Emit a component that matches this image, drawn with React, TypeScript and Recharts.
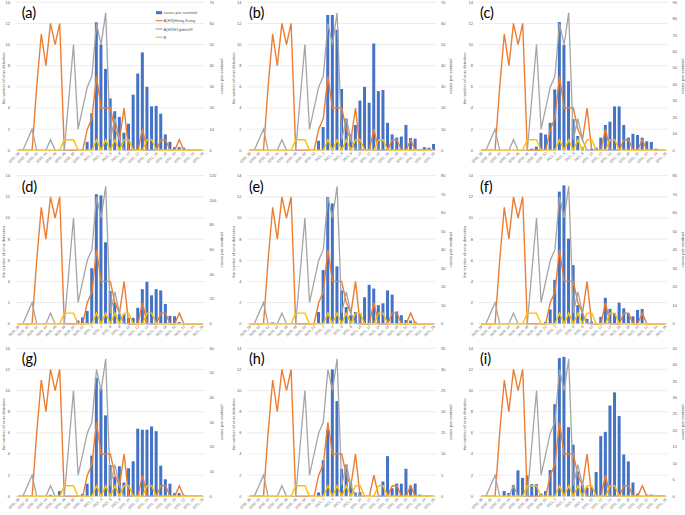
import React from 'react';
import { ComposedChart, Bar, Line, XAxis, YAxis, CartesianGrid } from 'recharts';

// ─── Colours / fonts ──────────────────────────────────────────────────────────

const FONT = '"Liberation Sans", Arial, sans-serif';
const TEXT = '#595959';
const BLUE = '#4472C4';
const ORANGE = '#ED7D31';
const GREY = '#A5A5A5';
const YELLOW = '#FFC000';

// ─── Data ─────────────────────────────────────────────────────────────────────

const WEEKS = [
  '2020_38', '2020_39', '2020_40', '2020_41', '2020_42', '2020_43', '2020_44', '2020_45',
  '2020_46', '2020_47', '2020_48', '2020_49', '2020_50', '2020_51', '2020_52',
  '2021_1', '2021_2', '2021_3', '2021_4', '2021_5', '2021_6', '2021_7', '2021_8', '2021_9',
  '2021_10', '2021_11', '2021_12', '2021_13', '2021_14', '2021_15', '2021_16', '2021_17',
  '2021_18', '2021_19', '2021_20', '2021_21', '2021_22', '2021_23', '2021_24', '2021_25', '2021_26',
];

// virus detections (left axis) – same in every panel
const H3_HK = [0, 0, 0, 0, 6, 11, 8, 12, 10, 12, 0, 0, 0, 0, 0, 2, 3, 7, 4, 4, 4, 2, 1, 4, 0, 0, 0, 2, 0, 0, 0, 1, 1, 0, 0, 1, 0, 0, 0, 0, 0];
const H1N1_PDM09 = [0, 0, 1, 2, 0, 0, 0, 1, 0, 0, 0, 5, 10, 2, 4, 6, 7, 12, 10, 13, 1, 3, 1, 0, 0, 0, 0, 0, 0, 0, 0, 0, 0, 0, 0, 0, 0, 0, 0, 0, 0];
const FLU_B = [0, 0, 0, 0, 0, 0, 0, 0, 0, 0, 1, 1, 1, 0, 0, 0, 0, 1, 0, 1, 0, 1, 0, 1, 1, 0, 0, 0, 1, 1, 0, 0, 0, 0, 0, 0, 0, 0, 0, 0, 0];

// cases per sentinel (right axis) – one series per panel
const CASES_A = [0, 0, 0, 0, 0, 0, 0, 0, 0, 0, 0, 0, 0, 0, 0.5, 4, 17.5, 60.5, 50, 38.5, 24.5, 18.5, 15.8, 8.3, 12.5, 26.3, 36.3, 46.3, 30, 20.8, 21, 17.3, 7.5, 4, 1.5, 1.5, 1.2, 0.3, 0, 0, 0];
const CASES_B = [0, 0, 0, 0, 0, 0, 0, 0, 0, 0, 0, 0, 0, 0, 0, 4.5, 11, 64, 64, 57, 29, 15, 7.5, 12, 23.5, 30, 22.5, 50.5, 28, 28.5, 13, 7.5, 6, 6.5, 12, 5.8, 5.5, 0.5, 1.5, 1.2, 3];
const CASES_C = [0, 0, 0, 0, 0, 0, 0, 0, 0, 0, 0, 1, 2.2, 10.6, 9.6, 16.7, 37, 78, 64, 42, 19, 8.7, 1.9, 0.5, 1, 1.6, 7.7, 15.4, 17.4, 26.7, 26.7, 15.4, 7.7, 10, 9.3, 7.7, 5.5, 5.1, 1, 0, 0];
const CASES_D = [0, 0, 0, 0, 0, 0, 0, 0, 0, 0, 0, 0, 0, 2.6, 5.1, 10.3, 45, 105, 104, 66, 26.5, 17, 8, 7.7, 4.7, 4.7, 12.9, 28, 34, 23, 28, 27, 16, 6.4, 6, 1.3, 0, 0, 0, 0, 0];
const CASES_E = [0, 0, 0, 0, 0, 0.7, 0, 0, 0, 0, 0, 0, 0, 0, 0, 6.3, 29, 68.5, 65, 31, 18, 9, 4.6, 6.3, 5.7, 14.3, 21, 19, 10, 11, 18, 15.7, 6.6, 4.6, 2, 1.7, 0.9, 0, 0, 0, 0];
const CASES_F = [0, 0, 0, 0, 0, 0, 0, 0, 0, 0, 0, 0, 0, 0, 0.9, 7.7, 23.7, 71.4, 74.8, 46, 31.7, 10, 5.7, 2.6, 1.1, 0, 3.7, 14, 8, 5.7, 11.4, 8.3, 5.7, 4, 7.4, 8, 0.3, 0.3, 0, 0, 0];
const CASES_G = [0, 0, 0, 0, 0, 0, 0, 0.6, 0, 2.1, 0, 0, 0, 0, 0.9, 5.1, 16.5, 48, 43.7, 32.8, 12.7, 8, 12.2, 5.6, 11.4, 14.2, 27.4, 27, 27, 28.3, 26.4, 12.4, 6.9, 5.1, 1.3, 1.3, 0.6, 0, 0, 0, 0];
const CASES_H = [0, 0, 0, 0, 0, 0, 0, 0, 0, 0, 0, 0, 0, 0, 0, 0.9, 8.5, 15.8, 30, 22.5, 6.5, 7.5, 3, 0.9, 1, 0, 0, 0, 0, 3.5, 9.5, 1.9, 3, 3, 6.5, 2.5, 3, 0.4, 0, 0, 0];
const CASES_I = [0, 0, 0, 0, 0, 1.6, 1, 3.4, 7.9, 5.6, 6.3, 3.7, 3.7, 0.8, 1.6, 8, 28, 42, 42.4, 21, 15.7, 7.5, 3.4, 2.7, 2.7, 7.4, 18.3, 19.6, 27.6, 31.6, 24.4, 12.7, 10.6, 4.2, 0.8, 0, 0.5, 0.5, 0.2, 0, 0];

// axis ticks
const LEFT_TICKS = [0, 2, 4, 6, 8, 10, 12, 14];
const RIGHT_70 = [0, 10, 20, 30, 40, 50, 60, 70];
const RIGHT_90 = [0, 10, 20, 30, 40, 50, 60, 70, 80, 90];
const RIGHT_120 = [0, 20, 40, 60, 80, 100, 120];
const RIGHT_80 = [0, 10, 20, 30, 40, 50, 60, 70, 80];
const RIGHT_60 = [0, 10, 20, 30, 40, 50, 60];
const RIGHT_35 = [0, 5, 10, 15, 20, 25, 30, 35];
const RIGHT_45 = [0, 5, 10, 15, 20, 25, 30, 35, 40, 45];

const PANELS = [
  { label: '(a)', cases: CASES_A, rightTicks: RIGHT_70 },
  { label: '(b)', cases: CASES_B, rightTicks: RIGHT_70 },
  { label: '(c)', cases: CASES_C, rightTicks: RIGHT_90 },
  { label: '(d)', cases: CASES_D, rightTicks: RIGHT_120 },
  { label: '(e)', cases: CASES_E, rightTicks: RIGHT_80 },
  { label: '(f)', cases: CASES_F, rightTicks: RIGHT_80 },
  { label: '(g)', cases: CASES_G, rightTicks: RIGHT_60 },
  { label: '(h)', cases: CASES_H, rightTicks: RIGHT_35 },
  { label: '(i)', cases: CASES_I, rightTicks: RIGHT_45 },
];

// ─── Layout ───────────────────────────────────────────────────────────────────

const COL_X = [0, 228, 455];
const ROW_Y = [0, 170, 340];
const PLOT_LEFT = [16, 19.4, 24];
const PLOT_TOP = [2.3, 5.7, 8.3];
const PLOT_W = 188.6;
const PLOT_H = 148;
const CHART_W = 228;
const CHART_H = 175;
const LETTER_X = [21.7, 249, 480];
const LEFT_TITLE_X = [5, 235, 466.5];
const RIGHT_TITLE_X = [223.2, 452.2, 684];

// ─── Sub-components ───────────────────────────────────────────────────────────

function WeekTick(props: any) {
  const { x, y, payload } = props;
  const tx = x + 1.5;
  const ty = y + 3.2;
  return (
    <text x={tx} y={ty} transform={`rotate(-45 ${tx} ${ty})`} textAnchor="end" fontSize={3.6} fontFamily={FONT} fill={TEXT}>
      {payload.value}
    </text>
  );
}

function Panel({ p, col, row }: { p: (typeof PANELS)[number]; col: number; row: number }) {
  const data = WEEKS.map((week, i) => ({
    week,
    cases: p.cases[i],
    h3: H3_HK[i],
    h1: H1N1_PDM09[i],
    b: FLU_B[i],
  }));
  const leftW = PLOT_LEFT[col];
  const rightW = CHART_W - leftW - PLOT_W;
  const top = PLOT_TOP[row];
  const xH = CHART_H - top - PLOT_H;
  const rMax = p.rightTicks[p.rightTicks.length - 1];
  const tickStyle = { fontSize: 4, fill: TEXT, fontFamily: FONT };

  return (
    <div style={{ position: 'absolute', left: COL_X[col], top: ROW_Y[row] }}>
      <ComposedChart
        width={CHART_W}
        height={CHART_H}
        data={data}
        margin={{ top, right: 0, bottom: 0, left: 0 }}
        barCategoryGap="14%"
      >
        <CartesianGrid yAxisId="left" vertical={false} stroke="#D9D9D9" strokeWidth={0.5} />
        <XAxis
          dataKey="week"
          interval={1}
          height={xH}
          tick={(tp: any) => <WeekTick {...tp} />}
          tickLine={false}
          axisLine={{ stroke: '#D9D9D9', strokeWidth: 0.5 }}
          tickSize={0}
          tickMargin={0}
        />
        <YAxis
          yAxisId="left"
          domain={[0, 14]}
          ticks={LEFT_TICKS}
          interval={0}
          width={leftW}
          axisLine={false}
          tickLine={false}
          tickSize={3}
          tickMargin={3}
          tick={tickStyle}
        />
        <YAxis
          yAxisId="right"
          orientation="right"
          domain={[0, rMax]}
          ticks={p.rightTicks}
          interval={0}
          width={rightW}
          axisLine={false}
          tickLine={false}
          tickSize={2}
          tickMargin={3}
          tick={tickStyle}
        />
        <Bar yAxisId="right" dataKey="cases" fill={BLUE} isAnimationActive={false} />
        <Line yAxisId="left" type="linear" dataKey="h3" stroke={ORANGE} strokeWidth={1.4} dot={false} isAnimationActive={false} />
        <Line yAxisId="left" type="linear" dataKey="h1" stroke={GREY} strokeWidth={1.3} dot={false} isAnimationActive={false} />
        <Line yAxisId="left" type="linear" dataKey="b" stroke={YELLOW} strokeWidth={1.4} dot={false} isAnimationActive={false} />
      </ComposedChart>
    </div>
  );
}

// ─── Main ─────────────────────────────────────────────────────────────────────

export default function App() {
  const legend = [
    { name: 'A(H3)Hong Kong', color: ORANGE },
    { name: 'A(H1N1)pdm09', color: GREY },
    { name: 'B', color: YELLOW },
  ];

  return (
    <div style={{ position: 'absolute', left: 0, top: 0, width: 685, height: 515, background: '#fff', overflow: 'hidden' }}>
      {PANELS.map((p, k) => (
        <Panel key={p.label} p={p} col={k % 3} row={Math.floor(k / 3)} />
      ))}

      {/* titles, panel letters, legend */}
      <svg width={685} height={515} style={{ position: 'absolute', left: 0, top: 0, pointerEvents: 'none' }}>
        {PANELS.map((p, k) => {
          const col = k % 3;
          const row = Math.floor(k / 3);
          const plotTop = ROW_Y[row] + PLOT_TOP[row];
          const midY = plotTop + PLOT_H / 2 + 2;
          return (
            <g key={p.label}>
              <text x={LETTER_X[col]} y={plotTop + 15.8} fontSize={14.5} fontFamily='Lato, "Open Sans", sans-serif' fill="#000">
                {p.label}
              </text>
              <text
                x={LEFT_TITLE_X[col]}
                y={midY}
                transform={`rotate(-90 ${LEFT_TITLE_X[col]} ${midY})`}
                textAnchor="middle"
                fontSize={4}
                fontFamily={FONT}
                fill={TEXT}
              >
                the number of virus detection
              </text>
              <text
                x={RIGHT_TITLE_X[col]}
                y={midY - 2}
                transform={`rotate(-90 ${RIGHT_TITLE_X[col]} ${midY - 2})`}
                textAnchor="middle"
                fontSize={4.4}
                fontFamily={FONT}
                fill={TEXT}
              >
                cases per sentinel
              </text>
            </g>
          );
        })}

        {/* legend – panel (a) only */}
        <rect x={156} y={11.2} width={6} height={3} fill={BLUE} />
        <text x={163.5} y={14} fontSize={4.2} fontFamily={FONT} fill={TEXT}>cases per sentinel</text>
        {legend.map((s, i) => {
          const y = 20.7 + i * 8.3;
          return (
            <g key={s.name}>
              <line x1={155.5} x2={162.5} y1={y} y2={y} stroke={s.color} strokeWidth={1.2} />
              <text x={163.5} y={y + 1.5} fontSize={4.2} fontFamily={FONT} fill={TEXT}>{s.name}</text>
            </g>
          );
        })}
      </svg>
    </div>
  );
}
